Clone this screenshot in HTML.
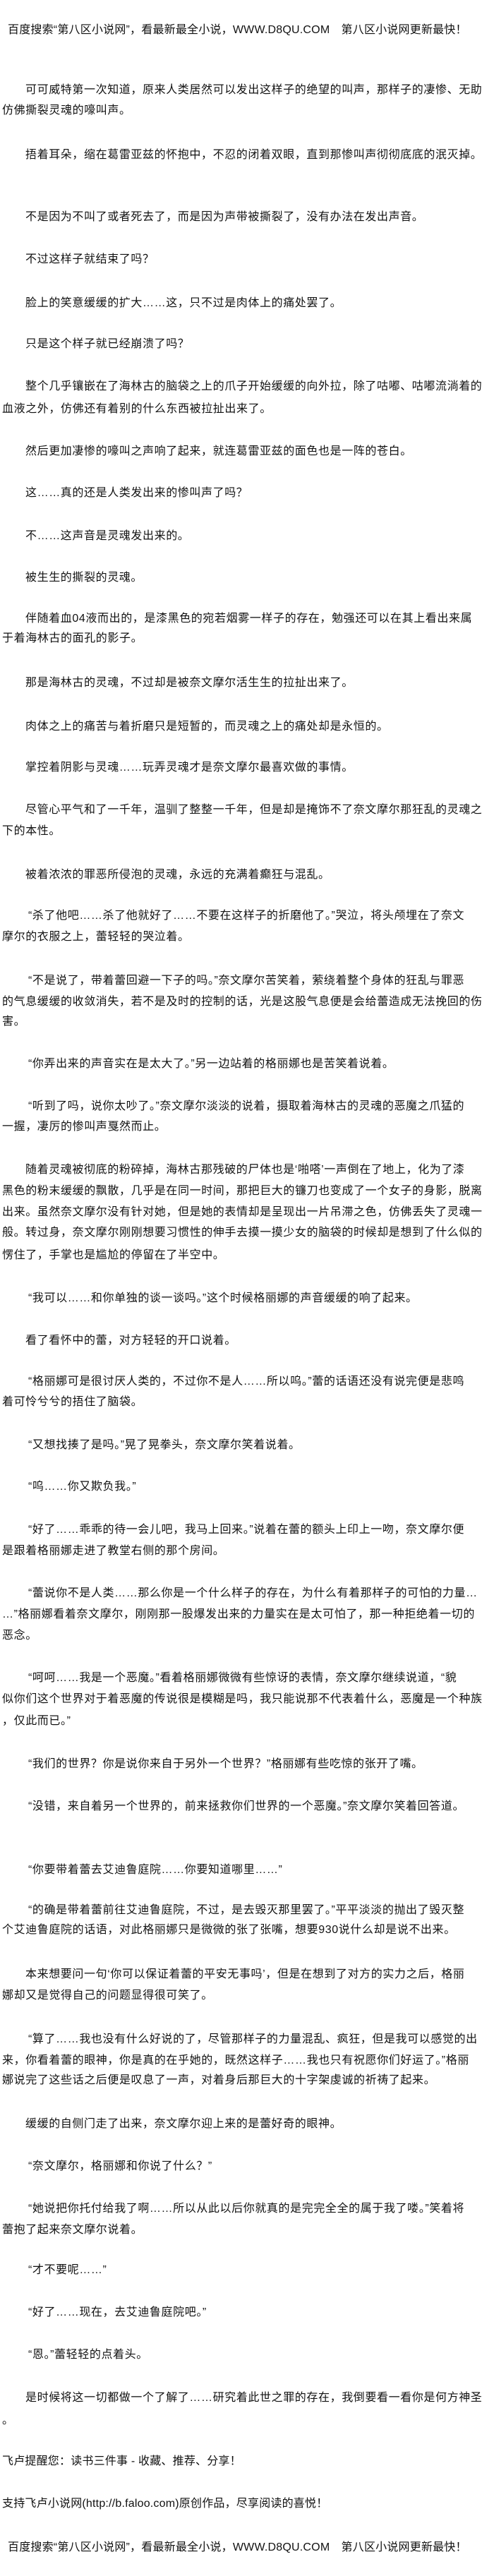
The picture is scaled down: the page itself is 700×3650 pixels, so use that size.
<!DOCTYPE html>
<html><head><meta charset="utf-8">
<style>
html,body{margin:0;padding:0;background:#fff;}
body{width:700px;height:3650px;position:relative;overflow:hidden;font-family:"Liberation Sans","Noto Sans CJK SC","WenQuanYi Zen Hei",sans-serif;font-size:16px;color:#111;}
.l{position:absolute;left:3px;white-space:nowrap;line-height:20px;letter-spacing:0.6px;}
.i{left:36px;}
.q{left:40px;}
.h{left:11px;letter-spacing:0.2px;}
</style></head><body>
<div class="l h" style="top:33px">百度搜索“第八区小说网”，看最新最全小说，WWW.D8QU.COM　第八区小说网更新最快！</div>

<div class="l i" style="top:118px">可可威特第一次知道，原来人类居然可以发出这样子的绝望的叫声，那样子的凄惨、无助</div>
<div class="l" style="top:147px">仿佛撕裂灵魂的嚎叫声。</div>
<div class="l i" style="top:210px">捂着耳朵，缩在葛雷亚兹的怀抱中，不忍的闭着双眼，直到那惨叫声彻彻底底的泯灭掉。</div>
<div class="l i" style="top:298px">不是因为不叫了或者死去了，而是因为声带被撕裂了，没有办法在发出声音。</div>
<div class="l i" style="top:358px">不过这样子就结束了吗？</div>
<div class="l i" style="top:420px">脸上的笑意缓缓的扩大……这，只不过是肉体上的痛处罢了。</div>
<div class="l i" style="top:478px">只是这个样子就已经崩溃了吗？</div>
<div class="l i" style="top:538px">整个几乎镶嵌在了海林古的脑袋之上的爪子开始缓缓的向外拉，除了咕嘟、咕嘟流淌着的</div>
<div class="l" style="top:570px">血液之外，仿佛还有着别的什么东西被拉扯出来了。</div>
<div class="l i" style="top:630px">然后更加凄惨的嚎叫之声响了起来，就连葛雷亚兹的面色也是一阵的苍白。</div>
<div class="l i" style="top:689px">这……真的还是人类发出来的惨叫声了吗？</div>
<div class="l i" style="top:750px">不……这声音是灵魂发出来的。</div>
<div class="l i" style="top:809px">被生生的撕裂的灵魂。</div>
<div class="l i" style="top:867px">伴随着血04液而出的，是漆黑色的宛若烟雾一样子的存在，勉强还可以在其上看出来属</div>
<div class="l" style="top:895px">于着海林古的面孔的影子。</div>
<div class="l i" style="top:958px">那是海林古的灵魂，不过却是被奈文摩尔活生生的拉扯出来了。</div>
<div class="l i" style="top:1020px">肉体之上的痛苦与着折磨只是短暂的，而灵魂之上的痛处却是永恒的。</div>
<div class="l i" style="top:1078px">掌控着阴影与灵魂……玩弄灵魂才是奈文摩尔最喜欢做的事情。</div>
<div class="l i" style="top:1138px">尽管心平气和了一千年，温驯了整整一千年，但是却是掩饰不了奈文摩尔那狂乱的灵魂之</div>
<div class="l" style="top:1168px">下的本性。</div>
<div class="l i" style="top:1230px">被着浓浓的罪恶所侵泡的灵魂，永远的充满着癫狂与混乱。</div>
<div class="l q" style="top:1288px">“杀了他吧……杀了他就好了……不要在这样子的折磨他了。”哭泣，将头颅埋在了奈文</div>
<div class="l" style="top:1318px">摩尔的衣服之上，蕾轻轻的哭泣着。</div>
<div class="l q" style="top:1380px">“不是说了，带着蕾回避一下子的吗。”奈文摩尔苦笑着，萦绕着整个身体的狂乱与罪恶</div>
<div class="l" style="top:1410px">的气息缓缓的收敛消失，若不是及时的控制的话，光是这股气息便是会给蕾造成无法挽回的伤</div>
<div class="l" style="top:1438px">害。</div>
<div class="l q" style="top:1498px">“你弄出来的声音实在是太大了。”另一边站着的格丽娜也是苦笑着说着。</div>
<div class="l q" style="top:1558px">“听到了吗，说你太吵了。”奈文摩尔淡淡的说着，摄取着海林古的灵魂的恶魔之爪猛的</div>
<div class="l" style="top:1587px">一握，凄厉的惨叫声戛然而止。</div>
<div class="l i" style="top:1648px">随着灵魂被彻底的粉碎掉，海林古那残破的尸体也是‘啪嗒’一声倒在了地上，化为了漆</div>
<div class="l" style="top:1678px">黑色的粉末缓缓的飘散，几乎是在同一时间，那把巨大的镰刀也变成了一个女子的身影，脱离</div>
<div class="l" style="top:1708px">出来。虽然奈文摩尔没有针对她，但是她的表情却是呈现出一片吊滞之色，仿佛丢失了灵魂一</div>
<div class="l" style="top:1737px">般。转过身，奈文摩尔刚刚想要习惯性的伸手去摸一摸少女的脑袋的时候却是想到了什么似的</div>
<div class="l" style="top:1769px">愣住了，手掌也是尴尬的停留在了半空中。</div>
<div class="l q" style="top:1830px">“我可以……和你单独的谈一谈吗。”这个时候格丽娜的声音缓缓的响了起来。</div>
<div class="l i" style="top:1890px">看了看怀中的蕾，对方轻轻的开口说着。</div>
<div class="l q" style="top:1948px">“格丽娜可是很讨厌人类的，不过你不是人……所以呜。”蕾的话语还没有说完便是悲鸣</div>
<div class="l" style="top:1977px">着可怜兮兮的捂住了脑袋。</div>
<div class="l q" style="top:2038px">“又想找揍了是吗。”晃了晃拳头，奈文摩尔笑着说着。</div>
<div class="l q" style="top:2097px">“呜……你又欺负我。”</div>
<div class="l q" style="top:2158px">“好了……乖乖的待一会儿吧，我马上回来。”说着在蕾的额头上印上一吻，奈文摩尔便</div>
<div class="l" style="top:2188px">是跟着格丽娜走进了教堂右侧的那个房间。</div>
<div class="l q" style="top:2248px">“蕾说你不是人类……那么你是一个什么样子的存在，为什么有着那样子的可怕的力量…</div>
<div class="l" style="top:2278px">…”格丽娜看着奈文摩尔，刚刚那一股爆发出来的力量实在是太可怕了，那一种拒绝着一切的</div>
<div class="l" style="top:2308px">恶念。</div>
<div class="l q" style="top:2368px">“呵呵……我是一个恶魔。”看着格丽娜微微有些惊讶的表情，奈文摩尔继续说道，“貌</div>
<div class="l" style="top:2398px">似你们这个世界对于着恶魔的传说很是模糊是吗，我只能说那不代表着什么，恶魔是一个种族</div>
<div class="l" style="top:2429px">，仅此而已。”</div>
<div class="l q" style="top:2490px">“我们的世界？你是说你来自于另外一个世界？”格丽娜有些吃惊的张开了嘴。</div>
<div class="l q" style="top:2550px">“没错，来自着另一个世界的，前来拯救你们世界的一个恶魔。”奈文摩尔笑着回答道。</div>
<div class="l q" style="top:2640px">“你要带着蕾去艾迪鲁庭院……你要知道哪里……”</div>
<div class="l q" style="top:2697px">“的确是带着蕾前往艾迪鲁庭院，不过，是去毁灭那里罢了。”平平淡淡的抛出了毁灭整</div>
<div class="l" style="top:2725px">个艾迪鲁庭院的话语，对此格丽娜只是微微的张了张嘴，想要930说什么却是说不出来。</div>
<div class="l i" style="top:2788px">本来想要问一句‘你可以保证着蕾的平安无事吗’，但是在想到了对方的实力之后，格丽</div>
<div class="l" style="top:2818px">娜却又是觉得自己的问题显得很可笑了。</div>
<div class="l q" style="top:2880px">“算了……我也没有什么好说的了，尽管那样子的力量混乱、疯狂，但是我可以感觉的出</div>
<div class="l" style="top:2910px">来，你看着蕾的眼神，你是真的在乎她的，既然这样子……我也只有祝愿你们好运了。”格丽</div>
<div class="l" style="top:2938px">娜说完了这些话之后便是叹息了一声，对着身后那巨大的十字架虔诚的祈祷了起来。</div>
<div class="l i" style="top:3000px">缓缓的自侧门走了出来，奈文摩尔迎上来的是蕾好奇的眼神。</div>
<div class="l q" style="top:3060px">“奈文摩尔，格丽娜和你说了什么？”</div>
<div class="l q" style="top:3120px">“她说把你托付给我了啊……所以从此以后你就真的是完完全全的属于我了喽。”笑着将</div>
<div class="l" style="top:3150px">蕾抱了起来奈文摩尔说着。</div>
<div class="l q" style="top:3207px">“才不要呢……”</div>
<div class="l q" style="top:3267px">“好了……现在，去艾迪鲁庭院吧。”</div>
<div class="l q" style="top:3327px">“恩。”蕾轻轻的点着头。</div>
<div class="l i" style="top:3388px">是时候将这一切都做一个了解了……研究着此世之罪的存在，我倒要看一看你是何方神圣</div>
<div class="l" style="top:3420px">。</div>
<div class="l" style="top:3478px;letter-spacing:0.2px">飞卢提醒您：读书三件事 - 收藏、推荐、分享！</div>
<div class="l" style="top:3538px;letter-spacing:0.2px">支持飞卢小说网(http://b.faloo.com)原创作品，尽享阅读的喜悦！</div>
<div class="l h" style="top:3600px">百度搜索“第八区小说网”，看最新最全小说，WWW.D8QU.COM　第八区小说网更新最快！</div>
</body></html>
